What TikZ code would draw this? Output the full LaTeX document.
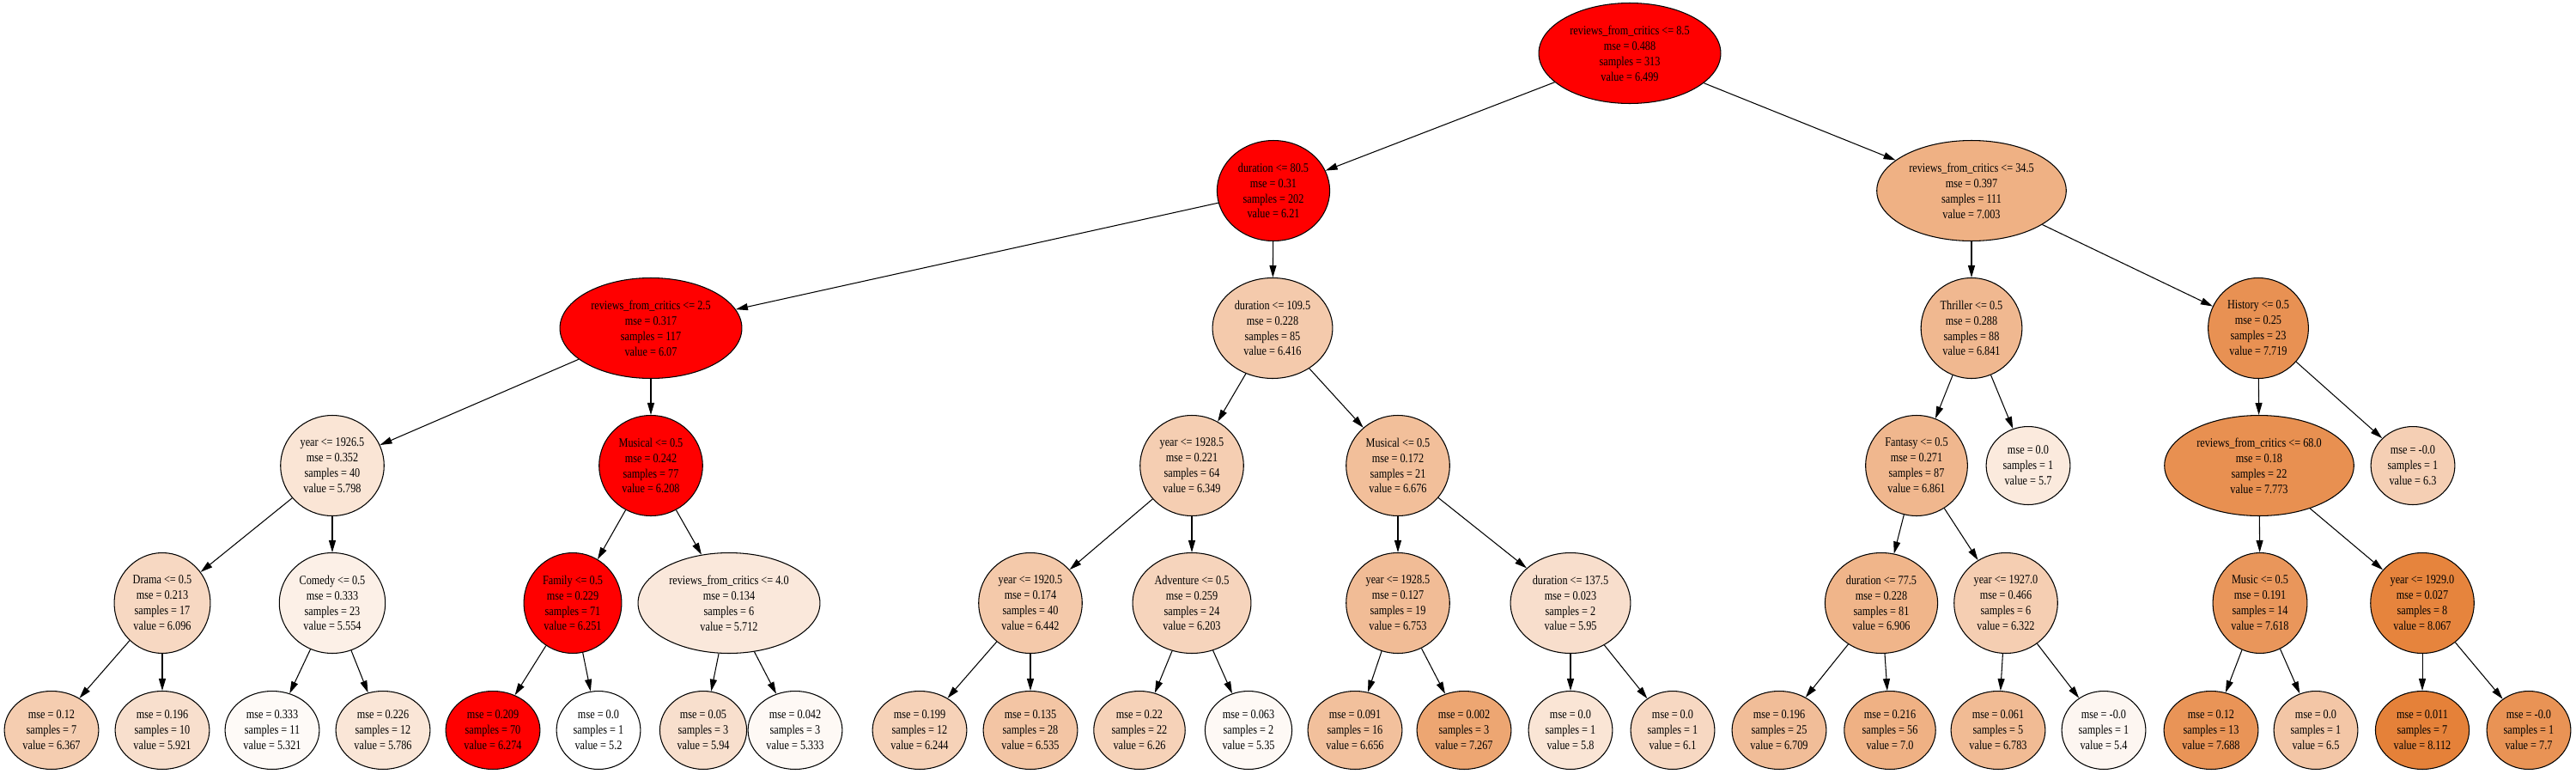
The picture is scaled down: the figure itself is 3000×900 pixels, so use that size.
\documentclass[tikz,border=0pt]{standalone}
\usepackage{fontspec}
\setmainfont{Liberation Serif}[FakeStretch=0.82]
\usetikzlibrary{shapes,arrows.meta}
\definecolor{tree}{RGB}{229,129,57}

\begin{document}
\begin{tikzpicture}
        [x=0.02cm,y=-0.02cm,line width=0.6pt,
        every node/.style={shape=ellipse,draw,align=center,inner xsep=3pt,
        inner ysep=4.3pt,font=\fontsize{8.5pt}{10.2pt}\selectfont},
        decide/.style={minimum height=2.34cm},
        leaf/.style={minimum height=1.82cm},
        tone/.style={fill=tree!#1},
        hot/.style={fill=red},
        arr/.style={-{Triangle[length=2.8mm,width=1.6mm]}}]
        \useasboundingbox (0,0) rectangle (3000,900);
        % depth 0 and 1
        \node[decide,hot] (r) at (1898,62) {reviews\_from\_critics <= 8.5\\mse = 0.488\\samples = 313\\value = 6.499};
        \node[decide,hot] (n1) at (1483,222) {duration <= 80.5\\mse = 0.31\\samples = 202\\value = 6.21};
        \node[decide,tone=62] (n2) at (2296,222) {reviews\_from\_critics <= 34.5\\mse = 0.397\\samples = 111\\value = 7.003};
        % depth 2
        \node[decide,hot] (n3) at (758,382) {reviews\_from\_critics <= 2.5\\mse = 0.317\\samples = 117\\value = 6.07};
        \node[decide,tone=42] (n4) at (1482,382) {duration <= 109.5\\mse = 0.228\\samples = 85\\value = 6.416};
        \node[decide,tone=56] (n5) at (2296,382) {Thriller <= 0.5\\mse = 0.288\\samples = 88\\value = 6.841};
        \node[decide,tone=87] (n6) at (2630,382) {History <= 0.5\\mse = 0.25\\samples = 23\\value = 7.719};
        % depth 3
        \node[decide,tone=21] (n7) at (387,542) {year <= 1926.5\\mse = 0.352\\samples = 40\\value = 5.798};
        \node[decide,hot] (n8) at (758,542) {Musical <= 0.5\\mse = 0.242\\samples = 77\\value = 6.208};
        \node[decide,tone=39] (n9) at (1388,542) {year <= 1928.5\\mse = 0.221\\samples = 64\\value = 6.349};
        \node[decide,tone=51] (n10) at (1628,542) {Musical <= 0.5\\mse = 0.172\\samples = 21\\value = 6.676};
        \node[decide,tone=57] (n11) at (2232,542) {Fantasy <= 0.5\\mse = 0.271\\samples = 87\\value = 6.861};
        \node[leaf,tone=17] (n12) at (2362,542) {mse = 0.0\\samples = 1\\value = 5.7};
        \node[decide,tone=88] (n13) at (2631,542) {reviews\_from\_critics <= 68.0\\mse = 0.18\\samples = 22\\value = 7.773};
        \node[leaf,tone=38] (n14) at (2810,542) {mse = -0.0\\samples = 1\\value = 6.3};
        % depth 4
        \node[decide,tone=31] (n15) at (189,702) {Drama <= 0.5\\mse = 0.213\\samples = 17\\value = 6.096};
        \node[decide,tone=12] (n16) at (387,702) {Comedy <= 0.5\\mse = 0.333\\samples = 23\\value = 5.554};
        \node[decide,hot] (n17) at (667,702) {Family <= 0.5\\mse = 0.229\\samples = 71\\value = 6.251};
        \node[decide,tone=18] (n18) at (849,702) {reviews\_from\_critics <= 4.0\\mse = 0.134\\samples = 6\\value = 5.712};
        \node[decide,tone=43] (n19) at (1200,702) {year <= 1920.5\\mse = 0.174\\samples = 40\\value = 6.442};
        \node[decide,tone=34] (n20) at (1388,702) {Adventure <= 0.5\\mse = 0.259\\samples = 24\\value = 6.203};
        \node[decide,tone=53] (n21) at (1628,702) {year <= 1928.5\\mse = 0.127\\samples = 19\\value = 6.753};
        \node[decide,tone=26] (n22) at (1829,702) {duration <= 137.5\\mse = 0.023\\samples = 2\\value = 5.95};
        \node[decide,tone=59] (n23) at (2191,702) {duration <= 77.5\\mse = 0.228\\samples = 81\\value = 6.906};
        \node[decide,tone=39] (n24) at (2336,702) {year <= 1927.0\\mse = 0.466\\samples = 6\\value = 6.322};
        \node[decide,tone=83] (n25) at (2632,702) {Music <= 0.5\\mse = 0.191\\samples = 14\\value = 7.618};
        \node[decide,tone=98] (n26) at (2821,702) {year <= 1929.0\\mse = 0.027\\samples = 8\\value = 8.067};
        % leaves
        \node[leaf,tone=40] (l1) at (60,850) {mse = 0.12\\samples = 7\\value = 6.367};
        \node[leaf,tone=25] (l2) at (189,850) {mse = 0.196\\samples = 10\\value = 5.921};
        \node[leaf,tone=4] (l3) at (317,850) {mse = 0.333\\samples = 11\\value = 5.321};
        \node[leaf,tone=20] (l4) at (446,850) {mse = 0.226\\samples = 12\\value = 5.786};
        \node[leaf,hot] (l5) at (574,850) {mse = 0.209\\samples = 70\\value = 6.274};
        \node[leaf,fill=white] (l6) at (697,850) {mse = 0.0\\samples = 1\\value = 5.2};
        \node[leaf,tone=25] (l7) at (819,850) {mse = 0.05\\samples = 3\\value = 5.94};
        \node[leaf,tone=5] (l8) at (926,850) {mse = 0.042\\samples = 3\\value = 5.333};
        \node[leaf,tone=36] (l9) at (1071,850) {mse = 0.199\\samples = 12\\value = 6.244};
        \node[leaf,tone=46] (l10) at (1200,850) {mse = 0.135\\samples = 28\\value = 6.535};
        \node[leaf,tone=36] (l11) at (1327,850) {mse = 0.22\\samples = 22\\value = 6.26};
        \node[leaf,tone=5] (l12) at (1454,850) {mse = 0.063\\samples = 2\\value = 5.35};
        \node[leaf,tone=50] (l13) at (1578,850) {mse = 0.091\\samples = 16\\value = 6.656};
        \node[leaf,tone=71] (l14) at (1705,850) {mse = 0.002\\samples = 3\\value = 7.267};
        \node[leaf,tone=21] (l15) at (1829,850) {mse = 0.0\\samples = 1\\value = 5.8};
        \node[leaf,tone=31] (l16) at (1948,850) {mse = 0.0\\samples = 1\\value = 6.1};
        \node[leaf,tone=52] (l17) at (2072,850) {mse = 0.196\\samples = 25\\value = 6.709};
        \node[leaf,tone=62] (l18) at (2201,850) {mse = 0.216\\samples = 56\\value = 7.0};
        \node[leaf,tone=54] (l19) at (2327,850) {mse = 0.061\\samples = 5\\value = 6.783};
        \node[leaf,tone=7] (l20) at (2450,850) {mse = -0.0\\samples = 1\\value = 5.4};
        \node[leaf,tone=85] (l21) at (2575,850) {mse = 0.12\\samples = 13\\value = 7.688};
        \node[leaf,tone=45] (l22) at (2697,850) {mse = 0.0\\samples = 1\\value = 6.5};
        \node[leaf,tone=100] (l23) at (2821,850) {mse = 0.011\\samples = 7\\value = 8.112};
        \node[leaf,tone=86] (l24) at (2945,850) {mse = -0.0\\samples = 1\\value = 7.7};
        % connectors
        \foreach \a/\b in {r/n1,r/n2,n1/n3,n1/n4,n2/n5,n2/n6,n3/n7,n3/n8,n4/n9,n4/n10,
                n5/n11,n5/n12,n6/n13,n6/n14,n7/n15,n7/n16,n8/n17,n8/n18,n9/n19,n9/n20,
                n10/n21,n10/n22,n11/n23,n11/n24,n13/n25,n13/n26,n15/l1,n15/l2,n16/l3,
                n16/l4,n17/l5,n17/l6,n18/l7,n18/l8,n19/l9,n19/l10,n20/l11,n20/l12,
                n21/l13,n21/l14,n22/l15,n22/l16,n23/l17,n23/l18,n24/l19,n24/l20,
                n25/l21,n25/l22,n26/l23,n26/l24}
            \draw[arr] (\a) -- (\b);
\end{tikzpicture}
\end{document}
